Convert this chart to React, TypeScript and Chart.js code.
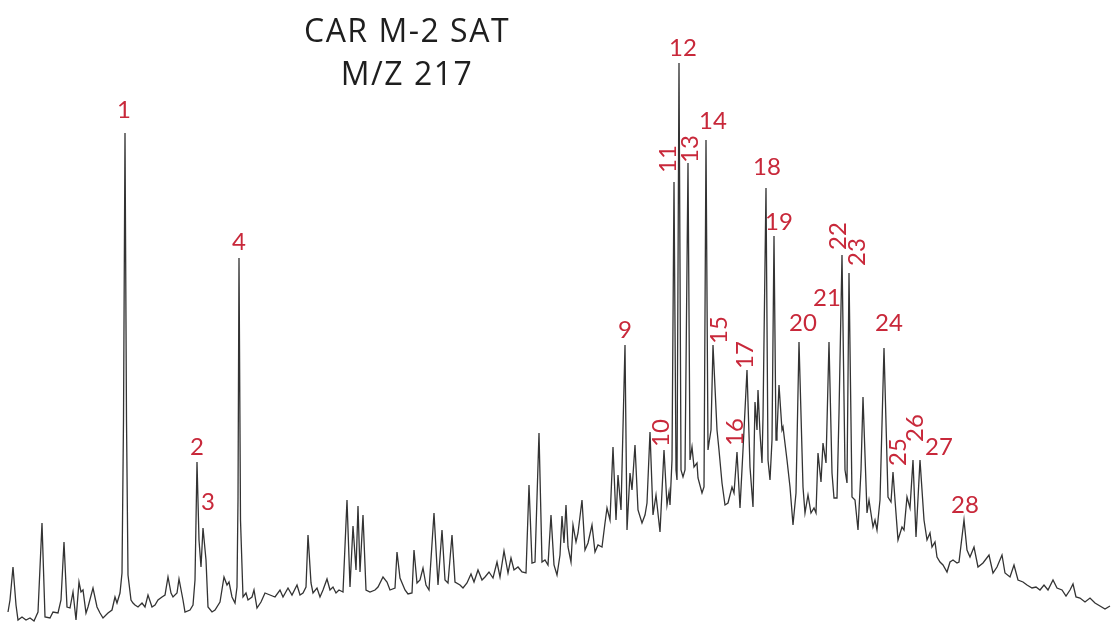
import React, { useEffect, useRef } from "react";
import { Chart, registerables } from "chart.js";

Chart.register(...registerables);

// Retention position (scan units) and detector response
const retention: number[] = [
  8, 10, 13, 16, 18, 22, 26, 30, 34, 38, 42, 45, 50, 53, 58, 61, 64, 67, 70, 73, 76, 79, 81, 83, 86, 88, 93, 97, 100, 103,
  108, 112, 115, 117, 120, 122, 123.5, 125, 126.5, 128, 131, 133, 135, 138, 142, 145, 148, 152, 155, 158, 162, 165, 168, 171, 173, 177, 179, 183, 185, 190,
  193, 195, 197, 199, 201, 203, 206, 208, 212, 215, 220, 224, 227, 229, 232, 235, 237, 238, 239, 240.5, 243, 246, 248, 252, 254, 257, 261, 265, 270, 275,
  280, 283, 288, 292, 297, 300, 303, 306, 308, 311, 313, 317, 320, 323, 327, 330, 333, 336, 339, 343, 347, 350, 353, 356, 358, 360, 363, 366, 370, 375,
  378, 383, 387, 390, 395, 397, 400, 405, 408, 412, 414, 417, 420, 423, 426, 429, 434, 438, 442, 445, 448, 452, 455, 460, 463, 467, 471, 474, 478, 482,
  485, 489, 493, 497, 500, 504, 508, 511, 514, 518, 522, 526, 529, 532, 535, 539, 542, 545, 548, 551, 554, 557, 560, 562, 564, 566, 568, 571, 573, 576,
  578, 582, 585, 588, 592, 595, 598, 602, 605, 607, 610, 613, 616, 618, 621, 625, 627, 630, 632, 635, 638, 642, 645, 647, 650, 653, 656, 660, 664, 667,
  669, 670, 672, 674, 676, 677, 679, 681, 683, 685, 688, 690, 692, 694, 697, 698, 702, 704, 706, 708, 709, 711, 713, 717, 719, 722, 725, 728, 732, 734,
  737, 740, 743, 747, 750, 753, 755, 757, 758, 760, 762, 763, 766, 768, 770, 772, 774, 776, 777, 779, 782, 783, 787, 790, 793, 796, 799, 803, 805, 808,
  811, 814, 816, 818, 821, 823, 826, 829, 832, 834, 837, 839, 842, 845, 847, 849, 852, 855, 858, 861, 863, 867, 869, 873, 875, 877, 880, 884, 888, 891,
  893, 895, 898, 902, 904, 907, 910, 913, 916, 920, 924, 927, 930, 932, 935, 937, 940, 943, 947, 950, 953, 957, 959, 964, 967, 970, 974, 978, 983, 989,
  993, 997, 1002, 1005, 1010, 1014, 1018, 1023, 1027, 1032, 1036, 1040, 1044, 1048, 1053, 1057, 1062, 1066, 1070, 1073, 1076, 1080, 1085, 1090, 1095, 1100, 1105, 1110,
];

const response: number[] = [
  11, 23, 56, 18, 3, 6, 3, 5, 2, 11, 100, 6, 5, 11, 10, 23, 81, 16, 15, 31, 3, 41, 31, 33, 10, 16, 35, 16, 10, 5,
  10, 13, 26, 20, 30, 50, 203, 490, 203, 48, 23, 20, 18, 16, 20, 16, 28, 16, 18, 23, 26, 28, 46, 30, 26, 30, 44, 23, 11, 13,
  18, 43, 161, 83, 56, 95, 63, 16, 11, 13, 21, 46, 38, 41, 26, 20, 36, 123, 365, 103, 26, 30, 23, 26, 33, 15, 21, 30, 28, 26,
  33, 26, 35, 28, 38, 28, 30, 36, 88, 40, 30, 35, 26, 33, 44, 33, 36, 30, 33, 31, 123, 36, 97, 53, 117, 51, 108, 33, 31, 33,
  36, 46, 41, 33, 35, 71, 45, 33, 29, 30, 73, 40, 43, 55, 38, 33, 110, 38, 93, 43, 40, 88, 41, 38, 35, 40, 49, 41, 53, 43,
  46, 51, 45, 61, 46, 72, 50, 65, 53, 56, 51, 50, 138, 60, 61, 190, 61, 63, 58, 108, 58, 48, 68, 107, 80, 118, 76, 61, 98, 81,
  90, 123, 73, 80, 98, 71, 78, 76, 100, 115, 103, 176, 103, 148, 113, 278, 93, 150, 133, 178, 113, 100, 108, 120, 191, 108, 128, 91, 173, 118,
  131, 118, 163, 441, 153, 143, 560, 153, 146, 153, 460, 163, 176, 156, 160, 145, 130, 136, 483, 173, 180, 193, 278, 193, 173, 140, 118, 120, 136, 130,
  171, 115, 173, 253, 156, 116, 221, 193, 233, 190, 160, 206, 435, 163, 143, 183, 387, 183, 190, 238, 193, 196, 163, 136, 98, 130, 281, 136, 110, 128,
  110, 115, 110, 170, 141, 180, 160, 281, 150, 125, 125, 210, 368, 153, 140, 350, 126, 123, 93, 153, 226, 110, 123, 96, 103, 93, 123, 275, 126, 121,
  151, 123, 83, 96, 93, 126, 115, 163, 86, 163, 103, 83, 90, 76, 81, 66, 61, 58, 51, 61, 63, 60, 61, 103, 73, 66, 76, 56, 60, 68,
  50, 56, 68, 50, 46, 58, 43, 41, 38, 35, 36, 33, 38, 33, 43, 35, 33, 27, 33, 39, 26, 25, 21, 25, 20, 17, 14, 17,
];

// Peak numbers and where their labels sit (retention, response)
const peakNames: string[] = ["1", "2", "3", "4", "9", "10", "11", "12", "13", "14", "15", "16", "17", "18", "19", "20", "21", "22", "23", "24", "25", "26", "27", "28"];
const peakLabelX: number[] = [124, 197, 208, 239, 625, 661, 668, 683, 690, 713, 719, 735, 745, 767, 779, 803, 827, 838, 857, 889, 898, 915, 939, 965];
const peakLabelY: number[] = [513, 176, 121, 381, 293, 190, 464, 575, 474, 502, 293, 191, 268, 456, 401, 300, 325, 387, 371, 300, 171, 195, 176, 118];
const peakLabelVertical: boolean[] = [false, false, false, false, false, true, true, false, true, false, true, true, true, false, false, false, false, true, true, false, true, true, false, false];

const titleLines: string[] = ["CAR M-2 SAT", "M/Z 217"];
const titleBaselines: number[] = [581, 538];

export default function App() {
  const canvasRef = useRef<HTMLCanvasElement | null>(null);

  useEffect(() => {
    if (!canvasRef.current) return;
    const labelPlugin = {
      id: "peakLabels",
      afterDraw(chart: any) {
        const ctx = chart.ctx;
        const xs = chart.scales.x;
        const ys = chart.scales.y;
        ctx.save();
        ctx.fillStyle = "#c8283a";
        ctx.font = "24px Lato";
        ctx.textAlign = "center";
        ctx.textBaseline = "middle";
        peakNames.forEach((name, i) => {
          const px = xs.getPixelForValue(peakLabelX[i]);
          const py = ys.getPixelForValue(peakLabelY[i]);
          if (peakLabelVertical[i]) {
            ctx.save();
            ctx.translate(px, py);
            ctx.rotate(-Math.PI / 2);
            ctx.fillText(name, 0, 0);
            ctx.restore();
          } else {
            ctx.fillText(name, px, py);
          }
        });
        ctx.fillStyle = "#1e1e1e";
        ctx.font = "32px 'Open Sans'";
        ctx.textBaseline = "alphabetic";
        (ctx as any).letterSpacing = "1.5px";
        titleLines.forEach((t, i) => {
          ctx.fillText(t, xs.getPixelForValue(407), ys.getPixelForValue(titleBaselines[i]));
        });
        ctx.restore();
      },
    };

    const chart = new Chart(canvasRef.current, {
      type: "line",
      data: {
        datasets: [
          {
            data: retention.map((x, i) => ({ x, y: response[i] })),
            borderColor: "#333333",
            borderWidth: 1.3,
            pointRadius: 0,
            tension: 0,
            fill: false,
          },
        ],
      },
      options: {
        animation: false,
        responsive: true,
        maintainAspectRatio: false,
        layout: { padding: 0 },
        plugins: { legend: { display: false }, tooltip: { enabled: false }, title: { display: false } },
        scales: {
          x: { type: "linear", min: 0, max: 1111, display: false },
          y: { type: "linear", min: 0, max: 623, display: false },
        },
      },
      plugins: [labelPlugin],
    });
    return () => chart.destroy();
  }, []);

  return (
    <div style={{ position: "fixed", left: 0, top: 0, width: 1111, height: 623, background: "#ffffff" }}>
      <canvas ref={canvasRef} />
    </div>
  );
}
